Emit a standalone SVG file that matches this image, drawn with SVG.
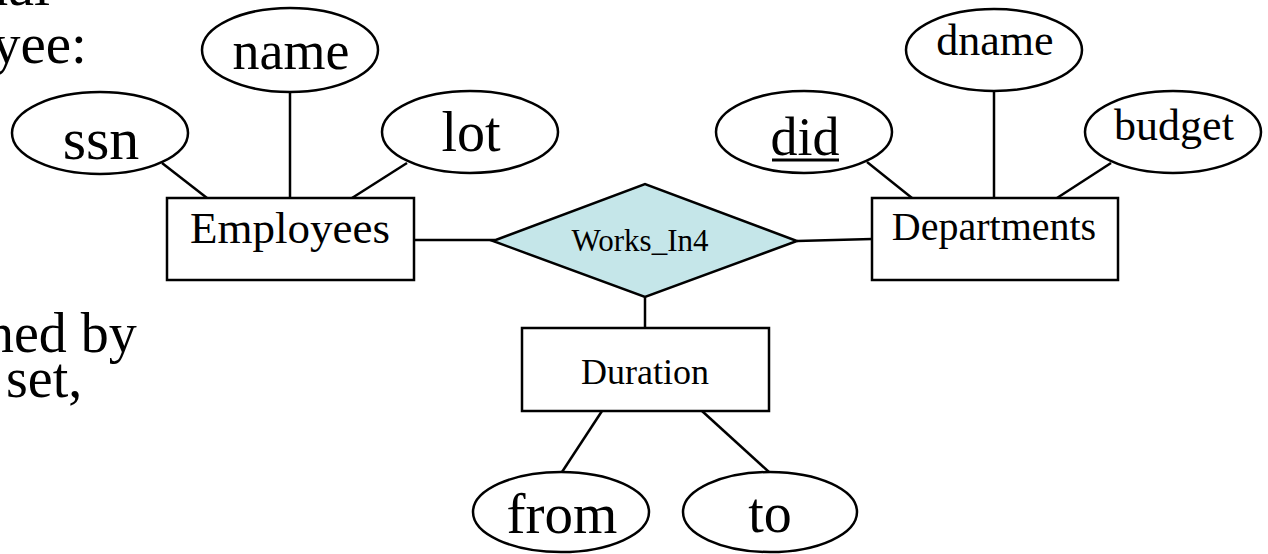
<svg xmlns="http://www.w3.org/2000/svg" width="1268" height="554" viewBox="0 0 1268 554">
<style>
.shape{fill:#fff;stroke:#000;stroke-width:2.5}
.rel{fill:#C5E6E9;stroke:#000;stroke-width:2.5}
.conn line{stroke:#000;stroke-width:2.5}
text{font-family:"Liberation Serif","Times New Roman",serif;fill:#000;text-anchor:middle}
.side{text-anchor:start}
</style>
<rect width="1268" height="554" fill="#fff"/>
<text class="side" x="50" y="5" font-size="58" style="text-anchor:end">ual</text>
<text class="side" x="-8" y="63" font-size="57">yee:</text>
<text class="side" x="-14" y="352" font-size="56">ned by</text>
<text class="side" x="6" y="397" font-size="56">set,</text>
<g class="conn">
<line x1="162" y1="163" x2="207" y2="198"/>
<line x1="290" y1="92" x2="290" y2="198"/>
<line x1="407" y1="163" x2="352" y2="198"/>
<line x1="414" y1="240" x2="495" y2="240"/>
<line x1="797" y1="241" x2="872" y2="239"/>
<line x1="645" y1="297" x2="645" y2="328"/>
<line x1="867" y1="162" x2="912" y2="198"/>
<line x1="994" y1="91" x2="994" y2="198"/>
<line x1="1111" y1="163" x2="1057" y2="198"/>
<line x1="602" y1="411" x2="562" y2="472"/>
<line x1="702" y1="411" x2="769" y2="472"/>
</g>
<g id="ssn"><ellipse class="shape" cx="100" cy="133" rx="88" ry="41"/><text x="101" y="159" font-size="60">ssn</text></g>
<g id="name"><ellipse class="shape" cx="290" cy="50" rx="88" ry="42"/><text x="291" y="69" font-size="54">name</text></g>
<g id="lot"><ellipse class="shape" cx="470" cy="132" rx="88" ry="41"/><text x="471" y="151" font-size="56">lot</text></g>
<g id="employees"><rect class="shape" x="167" y="198" width="247" height="82"/><text x="290" y="243" font-size="45">Employees</text></g>
<g id="works_in4"><polygon class="rel" points="493,241 645,184 797,241 645,297"/><text x="640" y="251" font-size="31">Works_In4</text></g>
<g id="did"><ellipse class="shape" cx="804" cy="132" rx="88" ry="41"/><text x="805" y="155" font-size="54">did</text><line x1="772" y1="160" x2="839" y2="160" stroke="#000" stroke-width="3"/></g>
<g id="dname"><ellipse class="shape" cx="994" cy="50" rx="88" ry="41"/><text x="995" y="55" font-size="44">dname</text></g>
<g id="budget"><ellipse class="shape" cx="1173" cy="132" rx="88" ry="41"/><text x="1174" y="140" font-size="44">budget</text></g>
<g id="departments"><rect class="shape" x="872" y="198" width="246" height="82"/><text x="994" y="240" font-size="40">Departments</text></g>
<g id="duration"><rect class="shape" x="522" y="328" width="247" height="83"/><text x="645" y="384" font-size="36">Duration</text></g>
<g id="from"><ellipse class="shape" cx="561" cy="512" rx="88" ry="40"/><text x="562" y="533" font-size="57">from</text></g>
<g id="to"><ellipse class="shape" cx="770" cy="512" rx="87" ry="40"/><text x="770" y="532" font-size="56">to</text></g>
</svg>
